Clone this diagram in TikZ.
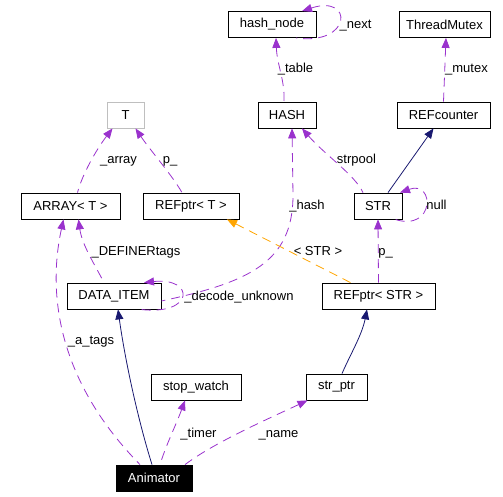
\documentclass[tikz,border=0pt]{standalone}
\usepackage{fontspec}
\setmainfont{Liberation Sans}
\usetikzlibrary{arrows.meta}
\definecolor{edgepurple}{HTML}{9A32CD}
\definecolor{edgenavy}{HTML}{191970}
\definecolor{edgeorange}{HTML}{FFA500}
\begin{document}
\begin{tikzpicture}[x=1pt,y=-1pt,>={Triangle[length=10pt,width=8pt]},
  cls/.style={draw,line width=0.8pt,minimum height=26pt,inner sep=0pt,font=\fontsize{13}{15}\selectfont},
  lbl/.style={inner sep=0pt,anchor=base,font=\fontsize{13}{15}\selectfont},
  member/.style={<-,edgepurple,line width=0.8pt,dash pattern=on 9pt off 6pt},
  derived/.style={<-,edgenavy,line width=0.8pt},
  instance/.style={<-,edgeorange,line width=0.8pt,dash pattern=on 9pt off 6pt}]
\useasboundingbox (0,0) rectangle (503,496);
% classes
\foreach \n/\x/\y/\w/\t in {hashnode/272/24.5/88/hash\_node, threadmutex/444.5/24.5/91/ThreadMutex,
    hash/287/115/58/HASH, refcounter/443.5/115/93/REFcounter,
    array/70.5/206/99/ARRAY< T >, refptrT/191/206/96/REFptr< T >, str/378/206/48/STR,
    dataitem/114/296/94/DATA\_ITEM, refptrSTR/378.5/296/113/REFptr< STR >,
    stopwatch/196/387/90/stop\_watch, strptr/336.5/387/61/str\_ptr}
{
    \node[cls,minimum width=\w pt] (\n) at (\x,\y) {\t};
}
\node[cls,draw={rgb,255:red,191;green,191;blue,191},minimum width=37pt] (T) at (125.5,115) {T};
\node[cls,fill=black,text=white,minimum width=76pt] (animator) at (154,478) {Animator};
% members
\draw[member] ([xshift=30]hashnode.north) .. controls (354,-6) and (352,46) .. ([xshift=24]hashnode.south);
\draw[member] ([xshift=4]hashnode.south) .. controls (277,65) and (285,80) .. ([xshift=-3]hash.north);
\draw[member] ([xshift=1.5]threadmutex.south) -- (refcounter.north);
\draw[member] ([xshift=-13]T.south) .. controls (96,150) and (82,175) .. ([xshift=7]array.north);
\draw[member] ([xshift=10]T.south) .. controls (150,150) and (172,175) .. ([xshift=-9]refptrT.north);
\draw[member] ([xshift=15]hash.south) .. controls (325,155) and (355,175) .. ([xshift=-15]str.north);
\draw[member] ([xshift=5]hash.south) -- (293,195) .. controls (293,262) and (250,282) .. ([yshift=-5]dataitem.east);
\draw[member] ([xshift=30]dataitem.north) .. controls (195,277) and (195,316) .. ([xshift=26]dataitem.south);
\draw[member] ([xshift=8]array.south) .. controls (82,245) and (95,265) .. ([xshift=-10]dataitem.north);
\draw[member] ([xshift=-7]array.south) .. controls (46,300) and (62,385) .. ([xshift=-14]animator.north);
\draw[member] (str.south) -- (refptrSTR.north);
\draw[member] ([xshift=22]str.north) .. controls (435,180) and (435,232) .. ([xshift=17]str.south);
\draw[member] ([xshift=-11]stopwatch.south) .. controls (176,425) and (166,445) .. ([xshift=6]animator.north);
\draw[member] ([xshift=-29]strptr.south) .. controls (270,418) and (215,442) .. ([xshift=31]animator.north);
% bases and templates
\draw[derived] ([xshift=-10]refcounter.south) -- ([xshift=10]str.north);
\draw[derived] ([xshift=4]dataitem.south) .. controls (125,360) and (138,420) .. ([xshift=-2]animator.north);
\draw[derived] ([xshift=-11.5]refptrSTR.south) .. controls (362,335) and (350,355) .. ([xshift=5.5]strptr.north);
\draw[instance] ([xshift=36]refptrT.south) -- ([xshift=-28]refptrSTR.north);
% labels
\node[lbl] (lnext) at (355.5,28) {\_next};
\node[lbl] (ltable) at (295.5,72.5) {\_table};
\node[lbl] (lmutex) at (466.5,72.5) {\_mutex};
\node[lbl] (larray) at (118.5,163) {\_array};
\node[lbl] (lpT) at (170,163) {p\_};
\node[lbl] (lstrpool) at (356.5,163) {strpool};
\node[lbl] (lhash) at (307,209) {\_hash};
\node[lbl] (lnull) at (436.5,209) {null};
\node[lbl] (ldefiner) at (136,255) {\_DEFINERtags};
\node[lbl] (lstr) at (318,255) {< STR >};
\node[lbl] (lpSTR) at (385.5,255) {p\_};
\node[lbl] (ldecode) at (239,300) {\_decode\_unknown};
\node[lbl] (latags) at (91,344) {\_a\_tags};
\node[lbl] (ltimer) at (198.5,437) {\_timer};
\node[lbl] (lname) at (278.5,437) {\_name};
\end{tikzpicture}
\end{document}
